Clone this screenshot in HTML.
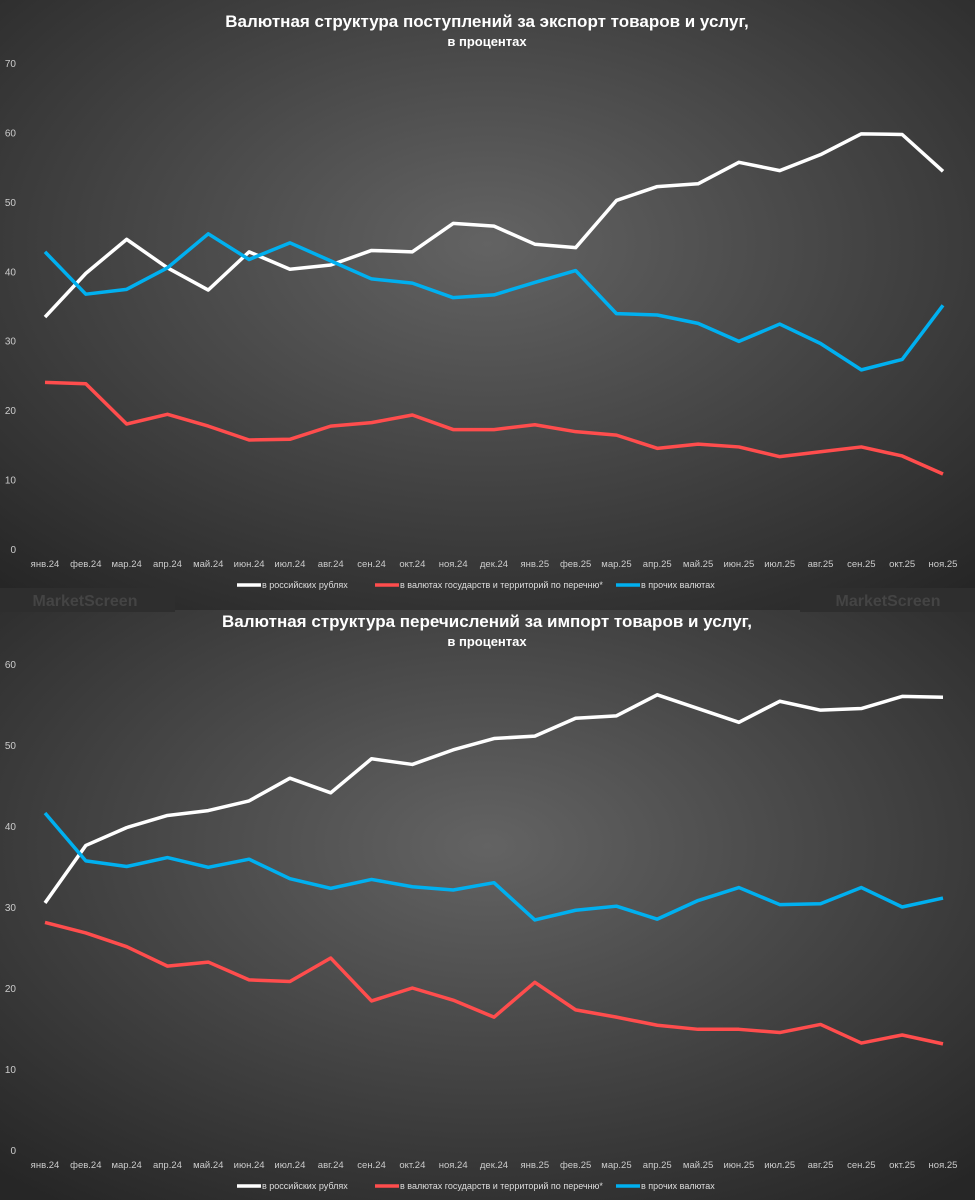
<!DOCTYPE html>
<html><head><meta charset="utf-8"><style>
html,body{margin:0;padding:0;background:#2a2a2a}
svg{display:block}
text{font-family:"Liberation Sans",sans-serif}
</style></head><body>
<svg id="c" width="975" height="1200">
<defs>
<radialGradient id="bg" cx="50%" cy="40%" r="75%"><stop offset="0" stop-color="#636363"/><stop offset="1" stop-color="#262626"/></radialGradient>
</defs>
<rect x="0" y="0" width="975" height="610" fill="url(#bg)"/>
<rect x="0" y="610" width="975" height="590" fill="url(#bg)"/>
<rect x="0" y="588" width="175" height="24" fill="#2e2e2e"/>
<rect x="800" y="588" width="175" height="24" fill="#2e2e2e"/>
<text x="85" y="606" fill="#444" font-size="16" font-weight="bold" text-anchor="middle">MarketScreen</text>
<text x="888" y="606" fill="#444" font-size="16" font-weight="bold" text-anchor="middle">MarketScreen</text>
</svg>
<script>
const categories=["янв.24","фев.24","мар.24","апр.24","май.24","июн.24","июл.24","авг.24","сен.24","окт.24","ноя.24","дек.24","янв.25","фев.25","мар.25","апр.25","май.25","июн.25","июл.25","авг.25","сен.25","окт.25","ноя.25"];
const seriesNames=["в российских рублях","в валютах государств и территорий по перечню*","в прочих валютах"];
const exportRub=[33.4,39.7,44.6,40.5,37.3,42.8,40.3,40.9,43.0,42.8,46.9,46.5,43.9,43.4,50.2,52.2,52.6,55.7,54.5,56.8,59.8,59.7,54.4];
const exportList=[24.0,23.8,18.0,19.4,17.7,15.7,15.8,17.7,18.2,19.3,17.2,17.2,17.9,16.9,16.4,14.5,15.1,14.7,13.3,14.0,14.7,13.4,10.8];
const exportOther=[42.8,36.7,37.4,40.5,45.4,41.7,44.1,41.5,38.9,38.3,36.2,36.6,38.4,40.1,33.9,33.7,32.5,29.9,32.4,29.6,25.8,27.3,35.1];
const importRub=[30.5,37.6,39.8,41.3,41.9,43.1,45.9,44.1,48.3,47.6,49.4,50.8,51.1,53.3,53.6,56.2,54.5,52.8,55.4,54.3,54.5,56.0,55.9];
const importList=[28.1,26.8,25.1,22.7,23.2,21.0,20.8,23.7,18.4,20.0,18.5,16.4,20.7,17.3,16.4,15.4,14.9,14.9,14.5,15.5,13.2,14.2,13.1];
const importOther=[41.6,35.7,35.0,36.1,34.9,35.9,33.5,32.3,33.4,32.5,32.1,33.0,28.4,29.6,30.1,28.5,30.8,32.4,30.3,30.4,32.4,30.0,31.1];
const ticks1=[0,10,20,30,40,50,60,70];
const ticks2=[0,10,20,30,40,50,60];
const colors=["#ffffff","#ff4d4d","#00b0f0"];
const svg=document.getElementById('c');
const NS="http://www.w3.org/2000/svg";
function mk(tag,attrs,txt){const e=document.createElementNS(NS,tag);for(const k in attrs)e.setAttribute(k,attrs[k]);if(txt!=null)e.textContent=txt;svg.appendChild(e);return e;}
function chart(p,title,sub,ticks,series,key){
  const x=i=>45+i*(943-45)/(categories.length-1);
  const y=v=>p.y0-(v-0)*(p.y0-p.yTop)/(ticks[ticks.length-1]);
  let t=mk('text',{x:487,y:p.t,fill:'#fff','font-size':17,'font-weight':'bold','text-anchor':'middle'},title);
  
  
  t=mk('text',{x:487,y:p.t+19,fill:'#fff','font-size':13,'font-weight':'bold','text-anchor':'middle'},sub);
  
  
  ticks.forEach(v=>{const e=mk('text',{x:16,y:y(v)+4,fill:'#ccc','font-size':10,'text-anchor':'end'},String(v));
    
    });
  categories.forEach((c,i)=>{const e=mk('text',{x:x(i),y:p.y0+18,fill:'#ccc','font-size':9.5,'text-anchor':'middle'},c);
    
    });
  series.forEach((s,si)=>{const e=mk('polyline',{points:s.map((v,i)=>x(i)+','+y(v)).join(' '),fill:'none',stroke:colors[si],'stroke-width':3.5,'stroke-linejoin':'round'});
    
    });
  const lx=[237,375,616];
  seriesNames.forEach((n,si)=>{
    const l=mk('line',{x1:lx[si],x2:lx[si]+24,y1:p.leg,y2:p.leg,stroke:colors[si],'stroke-width':3.5});
    
    
    const e=mk('text',{x:lx[si]+25,y:p.leg+3,fill:'#ddd','font-size':9},n);
    
    
  });
}
chart({t:27,y0:549,yTop:63,leg:585},"Валютная структура поступлений за экспорт товаров и услуг,","в процентах",ticks1,[exportRub,exportList,exportOther],'export');
chart({t:627,y0:1150,yTop:664,leg:1186},"Валютная структура перечислений за импорт товаров и услуг,","в процентах",ticks2,[importRub,importList,importOther],'import');
</script>
</body></html>
